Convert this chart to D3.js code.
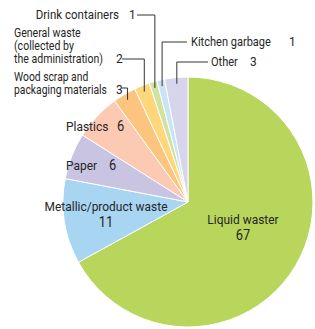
<!DOCTYPE html>
<html>
<head>
<meta charset="utf-8">
<script src="https://cdn.jsdelivr.net/npm/d3@7"></script>
<style>
  body { margin: 0; background: #fff; }
  text { font-family: Roboto, "Liberation Sans", sans-serif; font-size: 12px; fill: #262626; }
</style>
</head>
<body>
<div id="chart"></div>
<script>
// waste composition (%), clockwise from 12 o'clock
const categories = ["Liquid waster", "Metallic/product waste", "Paper", "Plastics",
  "Wood scrap and packaging materials", "General waste (collected by the administration)",
  "Drink containers", "Kitchen garbage", "Other"];
const values = [67, 11, 6, 6, 3, 2, 1, 1, 3];
const colors = ["#b9d65c", "#a8d5f2", "#c9c4e2", "#fcc9b3", "#fcc57f", "#fed67c", "#d1e29f", "#c8e4f6", "#d6d5ec"];

const width = 315, height = 329;
const cx = 188, cy = 202, radius = 125;

const svg = d3.select("#chart").append("svg")
    .attr("width", width)
    .attr("height", height);

const g = svg.append("g").attr("transform", `translate(${cx},${cy})`);

const pie = d3.pie().sort(null).value(d => d.value);
const data = pie(categories.map((c, i) => ({ name: c, value: values[i], color: colors[i] })));

const arc = d3.arc().innerRadius(0).outerRadius(radius);

g.selectAll("path.slice")
    .data(data)
    .enter()
    .append("path")
    .attr("class", "slice")
    .attr("d", arc)
    .style("fill", d => d.data.color)
    .style("stroke", "#fff")
    .style("stroke-width", 1);

// condensed text at page position
const label = (x, y, str, anchor = "start", size = 12, squeeze = 0.92) =>
    svg.append("text")
        .attr("transform", `translate(${x},${y}) scale(${squeeze},1)`)
        .attr("text-anchor", anchor)
        .style("font-size", size + "px")
        .text(str);

// point along the middle of a slice, page coords
const midPoint = (d, k) => {
    const a = (d.startAngle + d.endAngle) / 2;
    return [cx + radius * k * Math.sin(a), cy - radius * k * Math.cos(a)];
};

// labels inside the two big slices
label(243, 224, "Liquid waster", "middle", 13);
label(243, 240, values[0], "middle", 14);
label(106, 211, "Metallic/product waste", "middle", 13);
label(106, 227, values[1], "middle", 14);

// single line labels with value to the right
label(66, 131, "Plastics", "start", 13);
label(117, 131, values[3], "start", 14);
label(66, 170, "Paper", "start", 13);
label(109, 170, values[2], "start", 14);

// labels outside with leader lines
const callouts = [
    { i: 6, lines: ["Drink containers"], tx: 119, nx: 129, y: 19, lx1: 137, lineY: 15, anchor: "end", sq: 0.96 },
    { i: 5, lines: ["General waste", "(collected by", "the administration)"], tx: 14, nx: 116, y: 37, lx1: 122, lineY: 59, anchor: "start", sq: 0.88 },
    { i: 4, lines: ["Wood scrap and", "packaging materials"], tx: 14, nx: 116, y: 81, lx1: 122, lineY: 88, anchor: "start", sq: 0.86 },
    { i: 7, lines: ["Kitchen garbage"], tx: 191, nx: 289, y: 46, lx1: 187, lineY: 42, anchor: "start", sq: 0.92 },
    { i: 8, lines: ["Other"], tx: 211, nx: 250, y: 66, lx1: 208, lineY: 62, anchor: "start", sq: 0.92 }
];
callouts.forEach(c => {
    c.lines.forEach((ln, k) => label(c.tx, c.y + k * 13, ln, c.anchor, 12, c.sq));
    const lastY = c.y + (c.lines.length - 1) * 13;
    label(c.nx, lastY, values[c.i], "start", 13);

    const p = midPoint(data[c.i], 0.95);
    svg.append("path")
        .attr("d", `M${c.lx1},${c.lineY}H${p[0]}V${p[1]}`)
        .style("fill", "none")
        .style("stroke", "#333")
        .style("stroke-width", 1);
});
</script>
</body>
</html>
